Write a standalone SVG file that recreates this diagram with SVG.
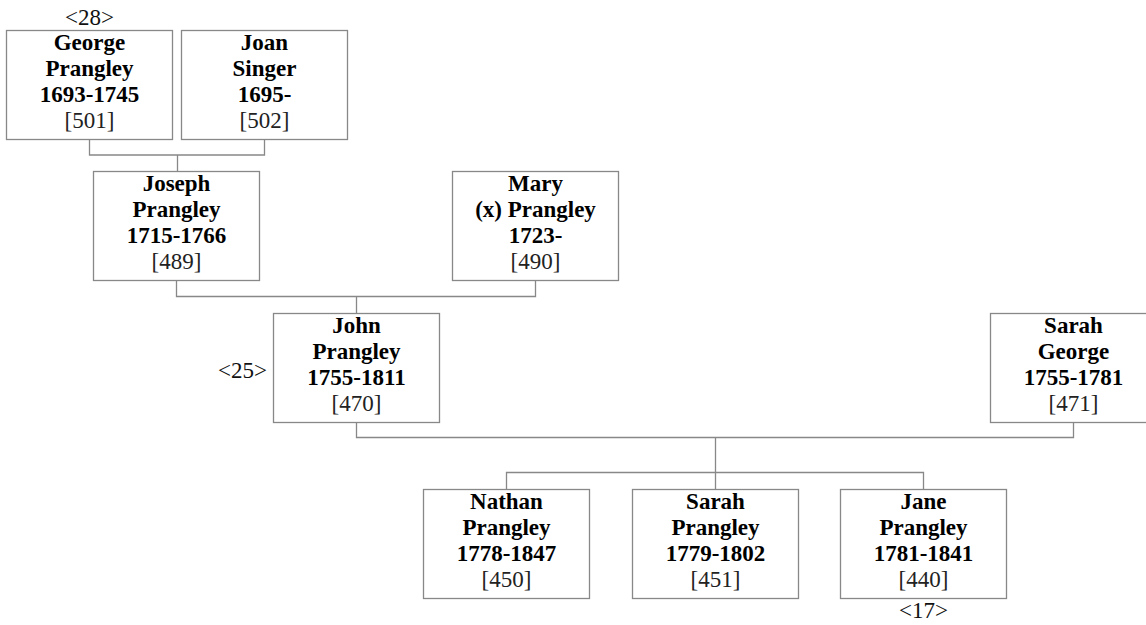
<svg xmlns="http://www.w3.org/2000/svg" width="1146" height="625" viewBox="0 0 1146 625">
<style>
.box{fill:#fff;stroke:#888;stroke-width:1.3}
.ln{fill:none;stroke:#888;stroke-width:1.3}
text{font-family:'Liberation Serif','Times New Roman',Tinos,'DejaVu Serif',serif;font-size:23px;text-anchor:middle;fill:#000}
.b{font-weight:bold}
.n{fill:#222}
.tag{fill:#111}
</style>
<rect width="1146" height="625" fill="#fff"/>
<g id="connectors">
<path class="ln" d="M89.5 139V155H264.5V139M177.5 155V171"/>
<path class="ln" d="M176.5 280V296.5H535.5V280M356.5 296.5V313"/>
<path class="ln" d="M356.5 422V437.5H1073.5V422M715.5 437.5V472.5"/>
<path class="ln" d="M506.5 489V472.5H923.5V489M715.5 472.5V489"/>
</g>
<g id="n501">
<rect class="box" x="6.5" y="30.5" width="166" height="109"/>
<text x="89.5" y="50" class="b" font-family="Liberation Serif, serif">George</text>
<text x="89.5" y="76" class="b">Prangley</text>
<text x="89.5" y="102" class="b">1693-1745</text>
<text x="89.5" y="128" class="n">[501]</text>
<text x="89.5" y="25" class="tag">&lt;28&gt;</text>
</g>
<g id="n502">
<rect class="box" x="181.5" y="30.5" width="166" height="109"/>
<text x="264.5" y="50" class="b">Joan</text>
<text x="264.5" y="76" class="b">Singer</text>
<text x="264.5" y="102" class="b">1695-</text>
<text x="264.5" y="128" class="n">[502]</text>
</g>
<g id="n489">
<rect class="box" x="93.5" y="171.5" width="166" height="109"/>
<text x="176.5" y="191" class="b">Joseph</text>
<text x="176.5" y="217" class="b">Prangley</text>
<text x="176.5" y="243" class="b">1715-1766</text>
<text x="176.5" y="269" class="n">[489]</text>
</g>
<g id="n490">
<rect class="box" x="452.5" y="171.5" width="166" height="109"/>
<text x="535.5" y="191" class="b">Mary</text>
<text x="535.5" y="217" class="b">(x) Prangley</text>
<text x="535.5" y="243" class="b">1723-</text>
<text x="535.5" y="269" class="n">[490]</text>
</g>
<g id="n470">
<rect class="box" x="273.5" y="313.5" width="166" height="109"/>
<text x="356.5" y="333" class="b">John</text>
<text x="356.5" y="359" class="b">Prangley</text>
<text x="356.5" y="385" class="b">1755-1811</text>
<text x="356.5" y="411" class="n">[470]</text>
<text x="267" y="378" class="tag" style="text-anchor:end">&lt;25&gt;</text>
</g>
<g id="n471">
<rect class="box" x="990.5" y="313.5" width="166" height="109"/>
<text x="1073.5" y="333" class="b">Sarah</text>
<text x="1073.5" y="359" class="b">George</text>
<text x="1073.5" y="385" class="b">1755-1781</text>
<text x="1073.5" y="411" class="n">[471]</text>
</g>
<g id="n450">
<rect class="box" x="423.5" y="489.5" width="166" height="109"/>
<text x="506.5" y="509" class="b">Nathan</text>
<text x="506.5" y="535" class="b">Prangley</text>
<text x="506.5" y="561" class="b">1778-1847</text>
<text x="506.5" y="587" class="n">[450]</text>
</g>
<g id="n451">
<rect class="box" x="632.5" y="489.5" width="166" height="109"/>
<text x="715.5" y="509" class="b">Sarah</text>
<text x="715.5" y="535" class="b">Prangley</text>
<text x="715.5" y="561" class="b">1779-1802</text>
<text x="715.5" y="587" class="n">[451]</text>
</g>
<g id="n440">
<rect class="box" x="840.5" y="489.5" width="166" height="109"/>
<text x="923.5" y="509" class="b">Jane</text>
<text x="923.5" y="535" class="b">Prangley</text>
<text x="923.5" y="561" class="b">1781-1841</text>
<text x="923.5" y="587" class="n">[440]</text>
<text x="923.5" y="618" class="tag">&lt;17&gt;</text>
</g>
</svg>
